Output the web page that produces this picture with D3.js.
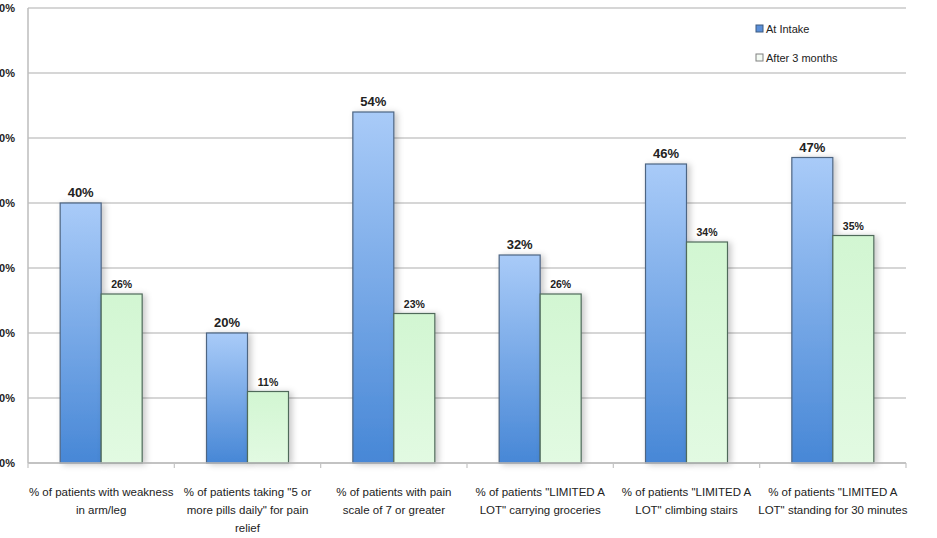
<!DOCTYPE html>
<html>
<head>
<meta charset="utf-8">
<script src="https://cdn.jsdelivr.net/npm/d3@7"></script>
<style>
  html, body { margin: 0; padding: 0; background: #fff; }
  svg { display: block; }
  text { font-family: "Liberation Sans Narrow", "Arial Narrow", "Liberation Sans", sans-serif; fill: #222; }
</style>
</head>
<body>
<svg id="chart" width="937" height="538"></svg>
<script>
// Patient outcome measures, at intake vs after 3 months
const categories = [
  ["% of patients with weakness", "in arm/leg"],
  ["% of patients taking \"5 or", "more pills daily\" for pain", "relief"],
  ["% of  patients with pain", "scale of 7 or greater"],
  ["% of patients \"LIMITED A", "LOT\" carrying groceries"],
  ["% of patients \"LIMITED A", "LOT\" climbing stairs"],
  ["% of patients \"LIMITED A", "LOT\" standing for 30 minutes"]
];
const atIntake = [40, 20, 54, 32, 46, 47];
const after3Months = [26, 11, 23, 26, 34, 35];
const seriesNames = ["At Intake", "After 3 months"];
const yTicks = [0, 10, 20, 30, 40, 50, 60, 70];

const svg = d3.select("#chart");
const plotLeft = 28, plotRight = 906, plotTop = 8, plotBottom = 463;

const x = d3.scaleBand().domain(d3.range(categories.length)).range([plotLeft, plotRight]);
const y = d3.scaleLinear().domain([0, 70]).range([plotBottom, plotTop]);
const barW = 41;

const defs = svg.append("defs");
const gBlue = defs.append("linearGradient").attr("id", "gBlue")
  .attr("x1", 0).attr("y1", 0).attr("x2", 0).attr("y2", 1);
gBlue.append("stop").attr("offset", "0%").attr("stop-color", "#a9cbf8");
gBlue.append("stop").attr("offset", "100%").attr("stop-color", "#4787d6");
const gGreen = defs.append("linearGradient").attr("id", "gGreen")
  .attr("x1", 0).attr("y1", 0).attr("x2", 0).attr("y2", 1);
gGreen.append("stop").attr("offset", "0%").attr("stop-color", "#d2f6d2");
gGreen.append("stop").attr("offset", "100%").attr("stop-color", "#e2fae2");
const shadow = defs.append("filter").attr("id", "shadow")
  .attr("x", "-20%").attr("y", "-10%").attr("width", "160%").attr("height", "130%");
shadow.append("feDropShadow").attr("dx", 3).attr("dy", 1).attr("stdDeviation", 3)
  .attr("flood-color", "#000").attr("flood-opacity", 0.22);

// Gridlines
svg.append("g").selectAll("line").data(yTicks).join("line")
  .attr("x1", plotLeft).attr("x2", plotRight)
  .attr("y1", d => y(d)).attr("y2", d => y(d))
  .attr("stroke", "#c9c9c9").attr("stroke-width", 1.5);

// Y axis labels (partly beyond the left edge)
const yAxis = d3.axisLeft(y).tickValues(yTicks).tickFormat(d => d + "%").tickSize(0).tickPadding(0);
const ya = svg.append("g").attr("transform", `translate(${plotLeft - 13},0)`).call(yAxis);
ya.select(".domain").remove();
ya.selectAll("text").style("font-family", "'Liberation Sans Narrow', sans-serif")
  .style("font-size", "11px").style("font-weight", "bold").attr("fill", "#333");

// Left axis line
svg.append("line").attr("x1", plotLeft).attr("x2", plotLeft).attr("y1", plotTop).attr("y2", plotBottom)
  .attr("stroke", "#bdbdbd").attr("stroke-width", 1.5);

// Bars
const groups = svg.append("g").selectAll("g").data(categories.map((c, i) => i)).join("g")
  .attr("transform", i => `translate(${x(i) + x.bandwidth() / 2},0)`);

groups.append("rect")
  .attr("x", -barW).attr("width", barW)
  .attr("y", i => y(atIntake[i])).attr("height", i => y(0) - y(atIntake[i]))
  .attr("fill", "url(#gBlue)").attr("stroke", "#4d6582").attr("stroke-width", 1.2)
  .attr("filter", "url(#shadow)");
groups.append("rect")
  .attr("x", 0).attr("width", barW)
  .attr("y", i => y(after3Months[i])).attr("height", i => y(0) - y(after3Months[i]))
  .attr("fill", "url(#gGreen)").attr("stroke", "#4f6a5a").attr("stroke-width", 1.2)
  .attr("filter", "url(#shadow)");

// Value labels
groups.append("text")
  .attr("x", -barW / 2).attr("y", i => y(atIntake[i]) - 6)
  .attr("text-anchor", "middle").style("font-size", "13px").style("font-weight", "bold")
  .attr("fill", "#333").text(i => atIntake[i] + "%");
groups.append("text")
  .attr("x", barW / 2).attr("y", i => y(after3Months[i]) - 6)
  .attr("text-anchor", "middle").style("font-size", "10.5px").style("font-weight", "bold")
  .attr("fill", "#333").text(i => after3Months[i] + "%");

// X axis line and tick marks at category boundaries
svg.append("line").attr("x1", plotLeft).attr("x2", plotRight).attr("y1", plotBottom).attr("y2", plotBottom)
  .attr("stroke", "#bdbdbd").attr("stroke-width", 1.5);
svg.append("g").selectAll("line").data(d3.range(categories.length + 1)).join("line")
  .attr("x1", i => plotLeft + i * x.step()).attr("x2", i => plotLeft + i * x.step())
  .attr("y1", plotBottom).attr("y2", plotBottom + 5)
  .attr("stroke", "#c4c4c4").attr("stroke-width", 1.2);

// Category labels
const cl = groups.append("text").attr("text-anchor", "middle")
  .style("font-size", "11.5px").attr("fill", "#222");
cl.selectAll("tspan").data(i => categories[i]).join("tspan")
  .attr("x", 0).attr("y", (d, j) => 496 + j * 18).text(d => d);

// Legend
const legend = svg.append("g").attr("transform", "translate(756,0)");
const lg = legend.selectAll("g").data(seriesNames).join("g")
  .attr("transform", (d, i) => `translate(0,${30 + i * 29})`);
lg.append("rect").attr("x", 0).attr("y", -5).attr("width", 7).attr("height", 7)
  .attr("fill", (d, i) => i === 0 ? "#5b8fd8" : "#f4fbf4")
  .attr("stroke", (d, i) => i === 0 ? "#3c5a80" : "#808080").attr("stroke-width", 1);
lg.append("text").attr("x", 10).attr("y", 3)
  .style("font-size", "11px").attr("fill", "#333").text(d => d);
</script>
</body>
</html>
